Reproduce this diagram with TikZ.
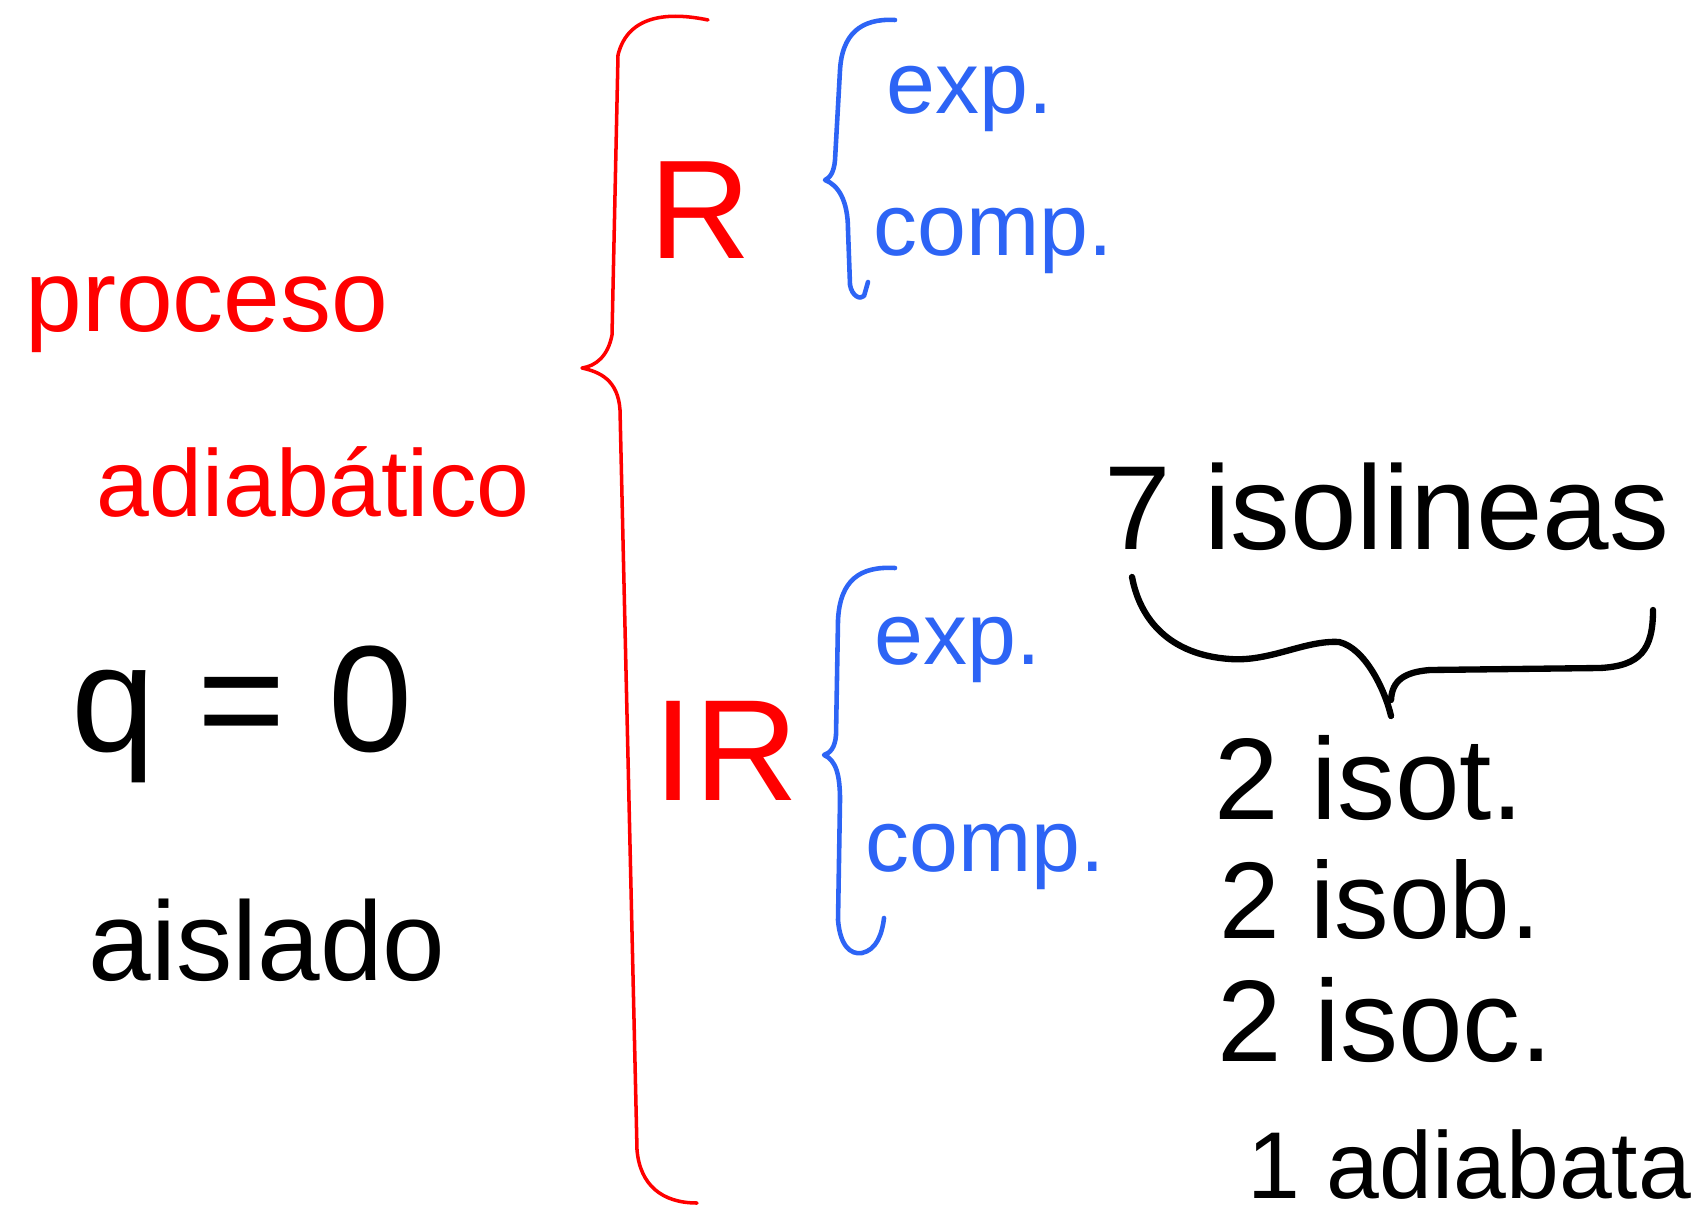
\documentclass[tikz,border=0pt]{standalone}
\usepackage{fontspec}
\setmainfont{Liberation Sans}
\definecolor{inkblue}{RGB}{45,100,245}
\newcommand{\handsize}[1]{\fontsize{#1}{#1}\selectfont}

\begin{document}
\begin{tikzpicture}[x=0.01cm, y=-0.01cm, line cap=round, line join=round,
    redtxt/.style={text=red, inner sep=0pt, anchor=base},
    bluetxt/.style={text=inkblue, inner sep=0pt, anchor=base},
    blacktxt/.style={text=black, inner sep=0pt, anchor=base},
    redbrace/.style={draw=red, line width=1pt},
    bluebrace/.style={draw=inkblue, line width=1.3pt},
    blackbrace/.style={draw=black, line width=1.8pt}]

    \useasboundingbox (0,0) rectangle (1707,1213);

    % === Proceso adiabatico ===
    \node[redtxt, font=\handsize{29}] (proceso) at (207,332) {proceso};
    \node[redtxt, font=\handsize{27}] (adiab) at (313,517) {adiabático};
    \node[blacktxt, font=\handsize{43}] (qcero) at (242,751) {q = 0};
    \node[blacktxt, font=\handsize{32}] (aislado) at (267,980) {aislado};

    % Llave roja
    \draw[redbrace] (708,20) .. controls (670,12) and (628,14) .. (618,55)
        -- (612,335) .. controls (608,356) and (596,366) .. (582,368)
        .. controls (600,372) and (618,380) .. (620,410)
        -- (637,1150) .. controls (640,1185) and (662,1203) .. (697,1203);

    % === Reversible / Irreversible ===
    \node[redtxt, font=\handsize{40}] (rev) at (700,259) {R};
    \node[redtxt, font=\handsize{41}] (irrev) at (726,800) {IR};

    % Llaves azules
    \draw[bluebrace] (895,20) .. controls (860,18) and (842,35) .. (840,70)
        -- (835,160) .. controls (834,172) and (830,178) .. (825,180)
        .. controls (838,185) and (848,200) .. (848,230)
        -- (850,285) .. controls (852,296) and (860,300) .. (864,296)
        -- (868,282);
    \draw[bluebrace] (895,568) .. controls (860,566) and (840,580) .. (838,620)
        -- (836,735) .. controls (835,748) and (830,753) .. (824,755)
        .. controls (836,760) and (840,775) .. (840,800)
        -- (838,920) .. controls (840,945) and (850,955) .. (862,953)
        .. controls (876,950) and (882,935) .. (884,918);

    \node[bluetxt, font=\handsize{25}] (expR) at (970,114) {exp.};
    \node[bluetxt, font=\handsize{25}] (compR) at (993,256) {comp.};
    \node[bluetxt, font=\handsize{25}] (expIR) at (958,664) {exp.};
    \node[bluetxt, font=\handsize{25}] (compIR) at (985,871) {comp.};

    % === Isolineas ===
    \node[blacktxt, font=\handsize{34}] (isolineas) at (1387,550) {7 isolineas};

    % Llave negra
    \draw[blackbrace] (1132,577) .. controls (1140,620) and (1170,655) .. (1230,659)
        .. controls (1270,662) and (1305,640) .. (1339,642)
        .. controls (1365,648) and (1385,690) .. (1391,716);
    \draw[blackbrace] (1391,700) .. controls (1392,680) and (1405,672) .. (1430,670)
        -- (1600,668) .. controls (1640,666) and (1653,650) .. (1653,610);

    \node[blacktxt, font=\handsize{33}, anchor=base west] (isot) at (1214,819) {2 isot.};
    \node[blacktxt, font=\handsize{31}, anchor=base west] (isob) at (1219,938) {2 isob.};
    \node[blacktxt, font=\handsize{33}, anchor=base west] (isoc) at (1217,1061) {2 isoc.};
    \node[blacktxt, font=\handsize{27}, anchor=base west] (adiabata) at (1247,1198) {1 adiabata};

\end{tikzpicture}
\end{document}
